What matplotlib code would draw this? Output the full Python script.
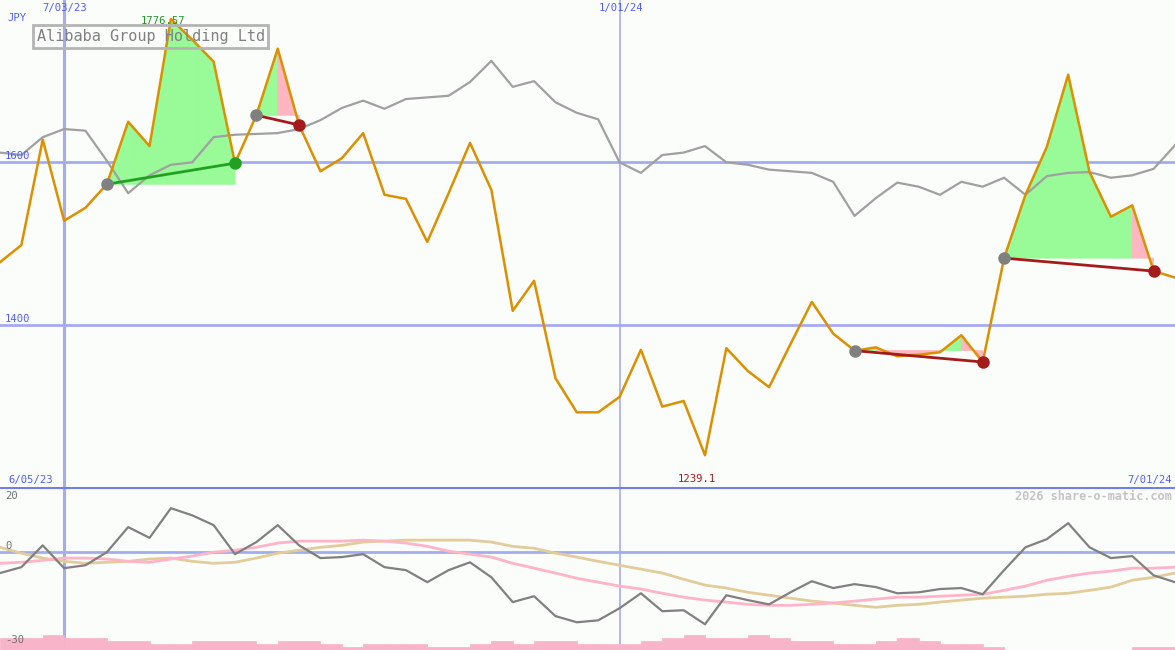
import matplotlib
matplotlib.use("Agg")
import matplotlib.pyplot as plt
from matplotlib.patches import Rectangle
import numpy as np

# ---------------- data (weekly, 12 Jun 2023 .. 1 Jul 2024) ----------------
price = [1477, 1498, 1628, 1528, 1544, 1573, 1650, 1620, 1776.57, 1751,
         1724, 1599, 1658, 1740, 1646, 1589, 1605, 1636, 1560, 1555,
         1502, 1562, 1624, 1566, 1417, 1454, 1334, 1292, 1292, 1311,
         1369, 1299, 1306, 1239.1, 1371, 1343, 1323, 1376, 1428, 1389,
         1368, 1372, 1361, 1363, 1366, 1387, 1354, 1482, 1560, 1619,
         1708, 1588, 1533, 1547, 1466, 1458]
index_cmp = [1612, 1609, 1631, 1641, 1639, 1602, 1562, 1584, 1597, 1600,
             1631, 1634, 1635, 1636, 1641, 1652, 1667, 1676, 1666, 1678,
             1680, 1682, 1699, 1725, 1693, 1700, 1674, 1661, 1653, 1600,
             1587, 1609, 1612, 1620, 1600, 1597, 1591, 1589, 1587, 1576,
             1534, 1556, 1575, 1570, 1560, 1576, 1570, 1581, 1560, 1583,
             1587, 1588, 1581, 1584, 1592, 1621]
osc = [-6.4, -4.6, 2.1, -4.9, -4.0, 0.0, 7.7, 4.4, 13.5, 11.3,
       8.3, -0.6, 3.1, 8.3, 2.1, -1.8, -1.5, -0.6, -4.6, -5.5,
       -9.2, -5.5, -3.1, -7.7, -15.3, -13.5, -19.6, -21.5, -20.9, -17.2,
       -12.6, -18.1, -17.8, -22.1, -13.2, -14.7, -16.0, -12.3, -8.9, -11.0,
       -9.8, -10.7, -12.6, -12.3, -11.3, -11.0, -12.9, -5.5, 1.5, 4.0,
       8.9, 1.5, -1.8, -1.2, -7.1, -9.2]
osc_ma_fast = [-3.4, -3.1, -2.5, -1.8, -1.8, -2.1, -2.8, -3.1, -2.1, -1.2,
               0.0, 0.6, 1.5, 2.8, 3.4, 3.4, 3.4, 3.7, 3.4, 2.8,
               1.8, 0.3, -0.6, -1.5, -3.4, -4.9, -6.4, -8.0, -9.2, -10.4,
               -11.3, -12.6, -13.8, -14.7, -15.3, -16.0, -16.3, -16.3, -16.0, -15.6,
               -15.0, -14.4, -13.8, -13.8, -13.5, -13.2, -12.9, -11.7, -10.4, -8.6,
               -7.4, -6.4, -5.8, -4.9, -4.9, -4.6]
osc_ma_slow = [1.5, -0.3, -1.8, -2.8, -3.4, -3.1, -2.8, -2.1, -1.8, -2.8,
               -3.4, -3.1, -1.8, -0.3, 0.6, 1.5, 2.1, 3.1, 3.4, 3.7,
               3.7, 3.7, 3.7, 3.1, 1.8, 1.2, -0.3, -1.5, -2.8, -4.0,
               -5.2, -6.4, -8.3, -10.1, -11.0, -12.3, -13.2, -14.1, -15.0, -15.6,
               -16.3, -16.9, -16.3, -16.0, -15.3, -14.7, -14.1, -13.8, -13.5, -12.9,
               -12.6, -11.7, -10.7, -8.6, -7.7, -6.4]
volume = [4, 4, 5, 4, 4, 3, 3, 2, 2, 3,
          3, 3, 2, 3, 3, 2, 1, 2, 2, 2,
          1, 1, 2, 3, 2, 3, 3, 2, 2, 2,
          3, 4, 5, 4, 4, 5, 4, 3, 3, 2,
          2, 3, 4, 3, 2, 2, 1, 0, 0, 0,
          0, 0, 0, 1, 1]
# trades: (entry week, exit week)
trades = [(5, 11), (12, 14), (40, 46), (47, 54)]
date_lines = [3, 29]
date_labels = ["7/03/23", "1/01/24"]
start_label, end_label = "6/05/23", "7/01/24"
price_levels = [1600, 1400]
title = "Alibaba Group Holding Ltd"

# ---------------- styling ----------------
W, H = 1175, 650
BG = "#fbfdfb"
GRID = "#a4acf0"
BLUE_TXT = "#5060ee"
GREEN_F = "#98fb98"
PINK_F = "#ffb6c1"
ORANGE = "#dc9000"
MONO = "DejaVu Sans Mono"

fig = plt.figure(figsize=(W / 100, H / 100), dpi=100, facecolor=BG)
split = 487
ax = fig.add_axes([0, (H - split) / H, 1, split / H])
axl = fig.add_axes([0, 0, 1, (H - split) / H])
for a in (ax, axl):
    a.set_facecolor(BG)
    a.axis("off")

n = len(price)
x = np.arange(n)
ax.set_xlim(0, n - 1)
axl.set_xlim(0, n - 1)
ax.set_ylim(1200, 1800)
axl.set_ylim(-30, 20)

# grid
for lv in price_levels:
    ax.axhline(lv, color=GRID, lw=2, zorder=1)
ax.axvline(date_lines[0], color=GRID, lw=2.2, zorder=1)
ax.axvline(date_lines[1], color=GRID, lw=1.2, zorder=1)
axl.axvline(date_lines[0], color=GRID, lw=2.2, zorder=1)
axl.axvline(date_lines[1], color=GRID, lw=1.2, zorder=1)
axl.axhline(0, color=GRID, lw=2, zorder=1)
axl.axhline(20, color="#7080e8", lw=3, zorder=5)

# trade fills
for (e, q) in trades:
    lvl = price[e]
    for k in range(e, q):
        col = GREEN_F if price[k + 1] > lvl else PINK_F
        ax.fill([x[k], x[k], x[k + 1], x[k + 1]],
                [lvl, price[k], price[k + 1], lvl],
                facecolor=col, edgecolor=col, lw=0.6, zorder=2)

ax.plot(x, index_cmp, color="#a0a0a0", lw=1.6, zorder=3)
ax.plot(x, price, color=ORANGE, lw=1.8, zorder=4)

for (e, q) in trades:
    win = price[q] > price[e]
    c = "#22a022" if win else "#a31b1b"
    ax.plot([x[e], x[q]], [price[e], price[q]], color=c, lw=2, zorder=5)
    ax.plot(x[e], price[e], "o", ms=9, color="#808080", mec="none", zorder=6)
    ax.plot(x[q], price[q], "o", ms=9, color=c, mec="none", zorder=6)

# lower panel
vb = np.array(volume) * 0.92
axl.bar(x[:-1], vb, width=1.0, bottom=-30, align="edge", color="#f8b4c8",
        edgecolor="#f8b4c8", lw=0.5, zorder=2)
axl.plot(x, osc_ma_slow, color="#e2cc9a", lw=2, zorder=3)
axl.plot(x, osc_ma_fast, color="#ffb4c8", lw=2, zorder=3)
axl.plot(x, osc, color="#808080", lw=1.6, zorder=4)


def ftxt(px, py, s, ha="left", color=BLUE_TXT, size=7.6, **kw):
    fig.text(px / W, 1 - py / H, s, ha=ha, va="center", color=color,
             fontsize=size, family=MONO, **kw)


ftxt(7, 18, "JPY")
ftxt(65, 8, date_labels[0], ha="center")
ftxt(621, 8, date_labels[1], ha="center")
ftxt(5, 156, f"{price_levels[0]}")
ftxt(5, 319, f"{price_levels[1]}")
ftxt(8, 480, start_label)
ftxt(1172, 480, end_label, ha="right")
imin = int(np.argmin(price))
imax = int(np.argmax(price))
ftxt(697, 479, f"{price[imin]}", ha="center", color="#a31b1b")
ftxt(163, 21, f"{price[imax]}", ha="center", color="#229922")
ftxt(1172, 496, "2026 share-o-matic.com", ha="right", color="#c4c4c4", size=8.6,
     weight="bold")
ftxt(5, 496, "20", color="#707070")
ftxt(5, 546, "0", color="#707070")
ftxt(5, 640, "-30", color="#707070")

# title box
fig.patches.append(Rectangle((33 / W, 1 - 48 / H), 235 / W, 23 / H,
                             transform=fig.transFigure, fill=False,
                             edgecolor="#b4b4b4", lw=2, zorder=0))
ftxt(37, 36.5, title, color="#808080", size=11)

fig.savefig("out.png", dpi=100, facecolor=BG)
